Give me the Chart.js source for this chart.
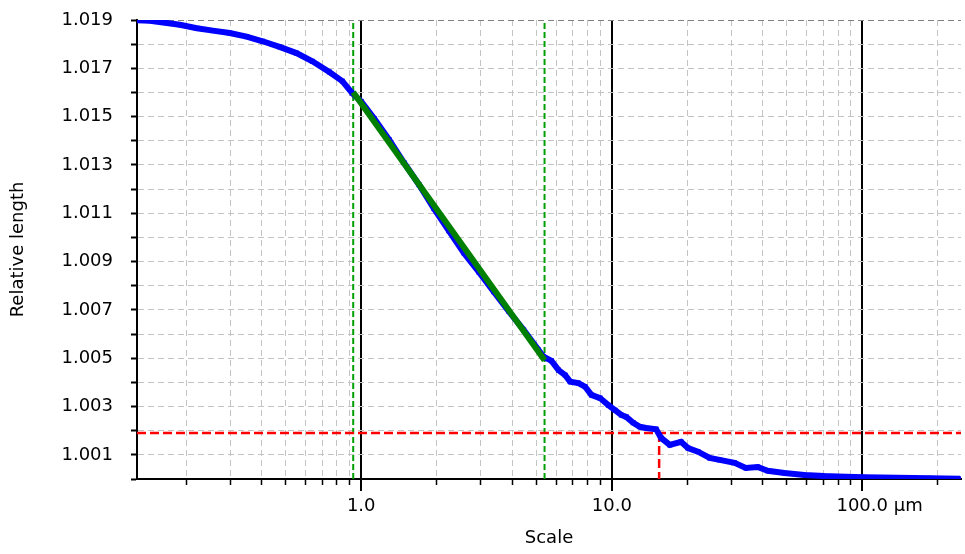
<!DOCTYPE html>
<html>
<head>
<meta charset="utf-8">
<script src="https://cdn.jsdelivr.net/npm/chart.js@4.4.1/dist/chart.umd.min.js"></script>
<style>
  html, body { margin: 0; padding: 0; background: #fff; }
  canvas { display: block; }
</style>
</head>
<body>
<canvas id="chart" width="965" height="554"></canvas>
<script>
// measured curve (scale in µm, relative length)
const SCALE = [0.1274, 0.1436, 0.1617, 0.1889, 0.2208, 0.2557, 0.2987, 0.3489, 0.4041, 0.4720,
  0.5515, 0.6385, 0.7459, 0.8404, 0.9208, 1.000, 1.1265, 1.2922, 1.4823, 1.7005,
  1.9508, 2.2379, 2.5673, 2.9452, 3.3787, 3.8760, 4.4465, 5.1010, 5.341, 5.746,
  6.128, 6.515, 6.820, 7.358, 7.825, 8.289, 8.977, 9.684, 10.297, 10.908,
  11.419, 12.175, 12.945, 13.714, 15.030, 15.734, 17.034, 18.894, 20.147, 22.077,
  24.575, 26.929, 30.901, 34.263, 38.238, 41.905, 48.841, 58.662, 70.437, 79.568,
  101.57, 137.8, 186.4, 245.3];
const LENGTH = [1.01899, 1.01897, 1.01890, 1.01880, 1.01866, 1.01856, 1.01846, 1.01831, 1.01812, 1.01789,
  1.01763, 1.01729, 1.01685, 1.01647, 1.01597, 1.01563, 1.01492, 1.01405, 1.01309, 1.01218,
  1.01119, 1.01027, 1.00936, 1.00857, 1.00775, 1.00695, 1.00617, 1.00534, 1.00506, 1.00489,
  1.00451, 1.00430, 1.00403, 1.00397, 1.00382, 1.00348, 1.00335, 1.00306, 1.00285, 1.00265,
  1.00257, 1.00233, 1.00216, 1.00211, 1.00206, 1.00170, 1.00141, 1.00154, 1.00128, 1.00113,
  1.00087, 1.00079, 1.00067, 1.00046, 1.00050, 1.00034, 1.00025, 1.00017, 1.00012, 1.00010,
  1.00007, 1.00005, 1.00003, 1.00001];

// linear fit over the window
const FIT_SCALE = [0.929, 5.39];
const FIT_LENGTH = [1.01601, 1.00492];
const WINDOW = [0.929, 5.39];

// threshold
const CUT_LENGTH = 1.0019;
const CUT_SCALE = 15.45;

const X_MIN = 0.1274, X_MAX = 247.5;
const Y_MIN = 1.000, Y_MAX = 1.019;
const X_TICKS = [0.2, 0.3, 0.4, 0.5, 0.6, 0.7, 0.8, 0.9, 1, 2, 3, 4, 5, 6, 7, 8, 9,
  10, 20, 30, 40, 50, 60, 70, 80, 90, 100, 200];
const X_MAJOR = [1, 10, 100];
const X_LABELS = { 1: '1.0', 10: '10.0', 100: '      100.0 µm' };
const Y_TICKS = [1.000, 1.001, 1.002, 1.003, 1.004, 1.005, 1.006, 1.007, 1.008, 1.009,
  1.010, 1.011, 1.012, 1.013, 1.014, 1.015, 1.016, 1.017, 1.018, 1.019];
const Y_LABELS = ['1.001', '1.003', '1.005', '1.007', '1.009', '1.011', '1.013', '1.015', '1.017', '1.019'];

Chart.defaults.font.family = "'DejaVu Sans', Verdana, sans-serif";
Chart.defaults.font.size = 18;
Chart.defaults.color = '#000';

const isMajor = v => X_MAJOR.includes(v);

function vline(x, color, dash) {
  return {
    data: [{ x, y: Y_MIN }, { x, y: Y_MAX }],
    borderColor: color, borderWidth: 2, borderDash: dash,
    pointRadius: 0, showLine: true, clip: 0, order: 4
  };
}

// longer tick marks under 1, 10, 100
const majorTicks = {
  id: 'majorTicks',
  afterDraw(chart) {
    const { ctx, scales: { x } } = chart;
    ctx.save();
    ctx.strokeStyle = '#000';
    ctx.lineWidth = 2;
    X_MAJOR.forEach(v => {
      const px = Math.round(x.getPixelForValue(v));
      ctx.beginPath();
      ctx.moveTo(px, x.top);
      ctx.lineTo(px, x.top + 12);
      ctx.stroke();
    });
    ctx.restore();
  }
};

new Chart(document.getElementById('chart'), {
  type: 'scatter',
  data: {
    datasets: [
      {
        data: FIT_SCALE.map((s, i) => ({ x: s, y: FIT_LENGTH[i] })),
        borderColor: '#008000', borderWidth: 6, pointRadius: 0,
        showLine: true, clip: 0, order: 1
      },
      {
        data: SCALE.map((s, i) => ({ x: s, y: LENGTH[i] })),
        borderColor: '#0000ff', borderWidth: 6,
        pointStyle: 'rect', pointRadius: 3.5, pointBorderWidth: 0,
        pointBackgroundColor: '#0000ff',
        showLine: true, clip: 0, order: 2
      },
      {
        data: [{ x: X_MIN, y: CUT_LENGTH }, { x: X_MAX, y: CUT_LENGTH }],
        borderColor: '#ff0000', borderWidth: 2.5, borderDash: [9, 4],
        pointRadius: 0, showLine: true, clip: 0, order: 3
      },
      {
        data: [{ x: CUT_SCALE, y: CUT_LENGTH }, { x: CUT_SCALE, y: Y_MIN }],
        borderColor: '#ff0000', borderWidth: 2.5, borderDash: [9, 4],
        pointRadius: 0, showLine: true, clip: 0, order: 3
      },
      vline(WINDOW[0], '#00a000', [6, 3]),
      vline(WINDOW[1], '#00a000', [6, 3])
    ]
  },
  options: {
    responsive: false,
    animation: false,
    layout: { padding: { top: 20, right: 1, left: 0, bottom: 0 } },
    plugins: { legend: { display: false }, tooltip: { enabled: false } },
    scales: {
      x: {
        type: 'logarithmic',
        min: X_MIN, max: X_MAX,
        afterFit: s => { s.height = 75; s.paddingLeft = 0; s.paddingRight = 0; },
        afterBuildTicks: s => { s.ticks = X_TICKS.map(v => ({ value: v })); },
        ticks: {
          autoSkip: false, maxRotation: 0, padding: 11,
          callback: v => X_LABELS[v] || ''
        },
        grid: {
          color: c => (c.tick && isMajor(c.tick.value)) ? '#000' : '#c4c4c4',
          lineWidth: c => (c.tick && isMajor(c.tick.value)) ? 2 : 1,
          tickColor: '#000',
          tickWidth: c => (c.tick && isMajor(c.tick.value)) ? 2 : 1.5,
          tickLength: 6
        },
        border: {
          color: '#000', width: 2,
          dash: c => (c.tick && isMajor(c.tick.value)) ? [] : [6, 4]
        },
        title: { display: true, text: 'Scale', padding: { top: 4, bottom: 5 } }
      },
      y: {
        min: Y_MIN, max: Y_MAX,
        afterFit: s => { s.width = 137; s.paddingTop = 0; s.paddingBottom = 0; },
        afterBuildTicks: s => { s.ticks = Y_TICKS.map(v => ({ value: v })); },
        ticks: {
          autoSkip: false, padding: 18,
          callback: v => Y_LABELS.find(l => Math.abs(parseFloat(l) - v) < 1e-7) || ''
        },
        grid: {
          color: c => (c.tick && Math.abs(c.tick.value - Y_MAX) < 1e-7) ? '#808080' : '#c4c4c4',
          lineWidth: 1,
          tickColor: '#000', tickWidth: 2, tickLength: 6
        },
        border: { color: '#000', width: 2, dash: [6, 4] },
        title: { display: true, text: 'Relative length', padding: { top: 8, bottom: 4 } }
      }
    }
  },
  plugins: [majorTicks]
});
</script>
</body>
</html>
